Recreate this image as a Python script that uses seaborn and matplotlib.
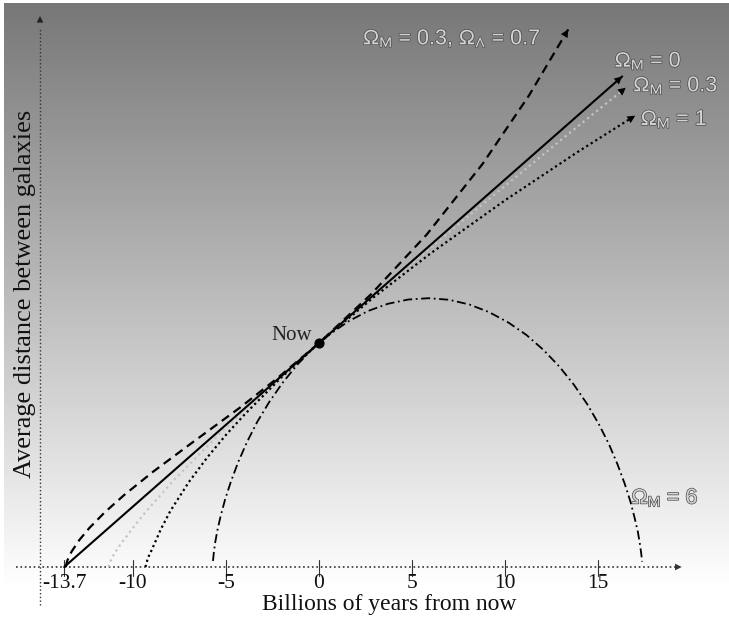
import numpy as np
import matplotlib
matplotlib.use("Agg")
import matplotlib.pyplot as plt
import matplotlib.patheffects as pe
import seaborn as sns

# time from now (Gyr) and scale factor (1 = now)
empty_t = [-13.7, 0.0, 16.3]
empty_a = [0.0, 1.0, 2.19]

lcdm_t = [-13.61, -13.56, -13.51, -13.3, -12.88, -12.36, -11.52, -10.48, -8.91, -6.82,
          -4.21, -2.21, 0.0, 2.79, 5.79, 8.79, 11.29, 13.4]
lcdm_a = [0.0, 0.021, 0.033, 0.069, 0.121, 0.173, 0.244, 0.321, 0.426, 0.555,
          0.714, 0.845, 1.0, 1.217, 1.484, 1.799, 2.105, 2.40]

open_t = [-11.32, -11.25, -11.1, -10.85, -10.5, -10.0, -9.31, -7.76, -5.37, -3.16,
          0.0, 3.29, 7.84, 13.55, 16.5]
open_a = [0.0, 0.02, 0.045, 0.08, 0.12, 0.175, 0.247, 0.392, 0.592, 0.765,
          1.0, 1.236, 1.554, 1.943, 2.14]

flat_t = [-9.33, -9.2, -9.0, -8.5, -8.0, -7.0, -6.0, -5.0, -4.0, -2.0, 0.0,
          3.0, 6.0, 10.0, 14.0, 17.0]
flat_a = [0.0, 0.04, 0.075, 0.169, 0.249, 0.379, 0.490, 0.590, 0.681, 0.848, 1.0,
          1.208, 1.400, 1.637, 1.858, 2.015]

closed_t = [-5.70, -5.66, -5.59, -5.47, -5.29, -5.05, -4.73, -4.34, -3.87, -3.32, -2.68,
            -1.96, -1.17, -0.31, 0.62, 1.61, 2.64, 3.70, 4.79, 5.89, 6.99, 8.08, 9.14,
            10.17, 11.15, 12.07, 12.93, 13.71, 14.42, 15.05, 15.59, 16.05, 16.43, 16.74,
            16.97, 17.15, 17.26, 17.33, 17.37]
closed_a = [0.027, 0.060, 0.105, 0.161, 0.227, 0.301, 0.383, 0.469, 0.558, 0.648, 0.736,
            0.822, 0.903, 0.977, 1.042, 1.098, 1.143, 1.175, 1.194, 1.200, 1.193, 1.172, 1.138,
            1.092, 1.036, 0.969, 0.894, 0.813, 0.727, 0.637, 0.548, 0.458, 0.373, 0.293,
            0.219, 0.154, 0.099, 0.056, 0.024]

tick_vals = [-13.7, -10, -5, 0, 5, 10, 15]
tick_labels = ["-13.7", "-10", "-5", "0", "5", "10", "15"]

sns.set_style("white")
plt.rcParams['font.family'] = ['Liberation Serif', 'DejaVu Serif']
plt.rcParams['mathtext.fontset'] = 'stixsans'

fig = plt.figure(figsize=(7.29, 6.22), dpi=100)
ax = fig.add_axes([4 / 729, 0, 725 / 729, 619 / 622])

x_lo, x_hi = (4 - 319) / 18.6, (729 - 319) / 18.6
y_lo, y_hi = (567 - 622) / 224, (567 - 3) / 224

# grey gradient background, dark at top -> white at bottom
py = np.arange(3, 622)
shade = np.clip((119 + (py - 3) * 0.232) / 255, 0, 1)
ax.imshow(shade[:, None], extent=[x_lo, x_hi, y_lo, y_hi], aspect='auto',
          cmap='gray', vmin=0, vmax=1, zorder=0)

# axes drawn by hand (dotted with arrows)
ax.plot([-16.3, 19.2], [0, 0], color='#333333', lw=1.2, linestyle=':', zorder=1)
ax.annotate('', xy=(19.5, 0), xytext=(19.0, 0),
            arrowprops=dict(arrowstyle='-|>', color='#333333', lw=0, mutation_scale=12,
                            shrinkA=0, shrinkB=0))
ax.plot([-15, -15], [-0.17, 2.40], color='#333333', lw=1.0, linestyle=':', zorder=1)
ax.annotate('', xy=(-15, 2.46), xytext=(-15, 2.39),
            arrowprops=dict(arrowstyle='-|>', color='#222222', lw=0, mutation_scale=12,
                            shrinkA=0, shrinkB=0))

for tv, tl in zip(tick_vals, tick_labels):
    ax.plot([tv, tv], [-0.04, 0.03], color='#333333', lw=0.8, zorder=1)
    ax.text(tv, -0.075, tl, ha='center', va='center', fontsize=15.5, color='#111111')

ax.text(3.8, -0.168, "Billions of years from now", ha='center', va='center',
        fontsize=17, color='#111111')
ax.text(-15.8, 1.22, "Average distance between galaxies", ha='center', va='center',
        rotation=90, fontsize=19, color='#111111')

# curves
sns.lineplot(x=empty_t, y=empty_a, ax=ax, color='black', lw=1.5, estimator=None, zorder=4)
sns.lineplot(x=lcdm_t, y=lcdm_a, ax=ax, color='black', lw=1.6, estimator=None,
             linestyle=(0, (4, 2.5)), zorder=3)
sns.lineplot(x=open_t, y=open_a, ax=ax, color='#c4c4c4', lw=1.6, estimator=None,
             linestyle=(0, (1, 1.6)), zorder=3)
sns.lineplot(x=flat_t, y=flat_a, ax=ax, color='black', lw=1.6, estimator=None,
             linestyle=(0, (1, 1.4)), zorder=3)
sns.lineplot(x=closed_t, y=closed_a, ax=ax, color='black', lw=1.3, estimator=None,
             linestyle=(0, (5, 2, 1, 2)), zorder=3)

for tt, aa in [(empty_t, empty_a), (lcdm_t, lcdm_a), (open_t, open_a), (flat_t, flat_a)]:
    ax.annotate('', xy=(tt[-1], aa[-1]), xytext=(tt[-2], aa[-2]),
                arrowprops=dict(arrowstyle='-|>', color='black', lw=0, mutation_scale=14,
                                shrinkA=0, shrinkB=0), zorder=5)

ax.scatter([0], [1], s=40, color='black', zorder=6)
ax.text(-0.35, 1.035, "Now", ha='right', va='center', fontsize=15, color='#222222')

lab = dict(fontsize=15.5, color='#d4d4d4', family=['Liberation Sans', 'DejaVu Sans'],
           path_effects=[pe.withStroke(linewidth=1.0, foreground='#4a4a4a')])
ax.text(2.37, 2.36, r'$\Omega_{\rm M}$ = 0.3, $\Omega_\Lambda$ = 0.7', ha='left', va='center', **lab)
ax.text(15.9, 2.26, r'$\Omega_{\rm M}$ = 0', ha='left', va='center', **lab)
ax.text(16.9, 2.15, r'$\Omega_{\rm M}$ = 0.3', ha='left', va='center', **lab)
ax.text(17.3, 2.0, r'$\Omega_{\rm M}$ = 1', ha='left', va='center', **lab)
ax.text(16.8, 0.31, r'$\Omega_{\rm M}$ = 6', ha='left', va='center', **lab)

ax.set_xlim(x_lo, x_hi)
ax.set_ylim(y_lo, y_hi)
ax.axis('off')

fig.savefig("out.png", dpi=100)
